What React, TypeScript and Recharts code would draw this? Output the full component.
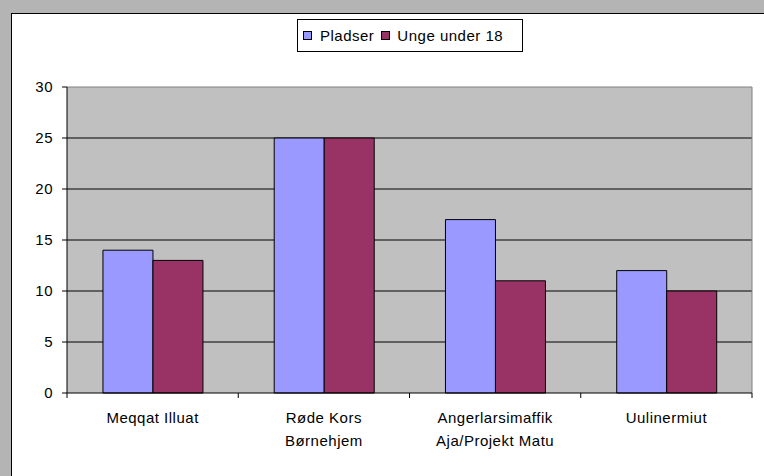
import React from "react";
import { BarChart, Bar, XAxis, YAxis, CartesianGrid, Legend, ReferenceLine } from "recharts";

const categories = ["Meqqat Illuat", "Røde Kors\nBørnehjem", "Angerlarsimaffik\nAja/Projekt Matu", "Uulinermiut"];
const pladser = [14, 25, 17, 12];
const ungeUnder18 = [13, 25, 11, 10];
const yTicks = [0, 5, 10, 15, 20, 25, 30];

const data = categories.map((name, i) => ({ name, pladser: pladser[i], unge: ungeUnder18[i] }));

const FONT = "'Liberation Sans', Arial, sans-serif";
const LS = 0.5;

const XTick = (props: any) => {
  const { x, y, payload, index, visibleTicksCount } = props;
  const lines = String(payload.value).split("\n");
  const off = payload.offset || 0;
  const axisY = y - 8;
  return (
    <g>
      <line x1={x - off} x2={x - off} y1={axisY} y2={axisY + 5} stroke="#000" />
      {index === visibleTicksCount - 1 && (
        <line x1={x + off} x2={x + off} y1={axisY} y2={axisY + 5} stroke="#000" />
      )}
      <text x={x} y={y} textAnchor="middle" fontFamily={FONT} fontSize={15} fill="#000" letterSpacing={LS}>
        {lines.map((l, i) => (
          <tspan key={i} x={x} dy={i === 0 ? 22 : 23}>
            {l}
          </tspan>
        ))}
      </text>
    </g>
  );
};

const LegendContent = () => (
  <div
    style={{
      border: "1px solid #000",
      background: "#fff",
      width: 219,
      height: 31,
      boxSizing: "content-box",
      display: "flex",
      alignItems: "center",
      fontFamily: FONT,
      fontSize: 15,
      letterSpacing: LS,
      color: "#000",
      paddingLeft: 5,
      whiteSpace: "nowrap",
    }}
  >
    <span style={{ display: "inline-block", width: 7, height: 7, background: "#9999FF", border: "1px solid #000", marginRight: 8 }} />
    <span style={{ marginRight: 7 }}>Pladser</span>
    <span style={{ display: "inline-block", width: 7, height: 7, background: "#993366", border: "1px solid #000", marginRight: 7 }} />
    <span>Unge under 18</span>
  </div>
);

export default function App() {
  return (
    <div style={{ position: "fixed", left: 0, top: 0, width: 764, height: 476, background: "#B4B4B4", overflow: "hidden" }}>
      <div
        style={{
          position: "absolute",
          left: 11,
          top: 13,
          width: 760,
          height: 470,
          background: "#fff",
          borderLeft: "1px solid #000",
          borderTop: "1px solid #000",
        }}
      />
      <div style={{ position: "absolute", left: 0, top: 0 }}>
        <BarChart
          width={764}
          height={476}
          data={data}
          margin={{ top: 54, right: 12, bottom: 23, left: 7 }}
          barCategoryGap="21%"
          barGap={0}
        >
          <CartesianGrid
            vertical={false}
            stroke="#000"
            fill="#C0C0C0"
            fillOpacity={1}
            horizontalValues={[5, 10, 15, 20, 25]}
          />
          <ReferenceLine y={30} stroke="#808080" />
          <CartesianGrid horizontal={false} stroke="#808080" verticalCoordinatesGenerator={(p: any) => [p.offset.left + p.offset.width]} />
          <XAxis
            dataKey="name"
            axisLine={{ stroke: "#000" }}
            tickLine={false}
            tickSize={6}
            tickMargin={2}
            height={60}
            interval={0}
            tick={<XTick />}
          />
          <YAxis
            domain={[0, 30]}
            ticks={yTicks}
            width={60}
            axisLine={{ stroke: "#000" }}
            tickLine={{ stroke: "#000" }}
            tickSize={5}
            tickMargin={9}
            tick={{ fontFamily: FONT, fontSize: 15, fill: "#000", letterSpacing: LS }}
            interval={0}
          />
          <Legend
            verticalAlign="top"
            content={<LegendContent />}
            wrapperStyle={{ position: "absolute", left: 297, top: 19, width: "auto" }}
          />
          <Bar dataKey="pladser" name="Pladser" fill="#9999FF" stroke="#000" strokeWidth={1} isAnimationActive={false} />
          <Bar dataKey="unge" name="Unge under 18" fill="#993366" stroke="#000" strokeWidth={1} isAnimationActive={false} />
        </BarChart>
      </div>
    </div>
  );
}
